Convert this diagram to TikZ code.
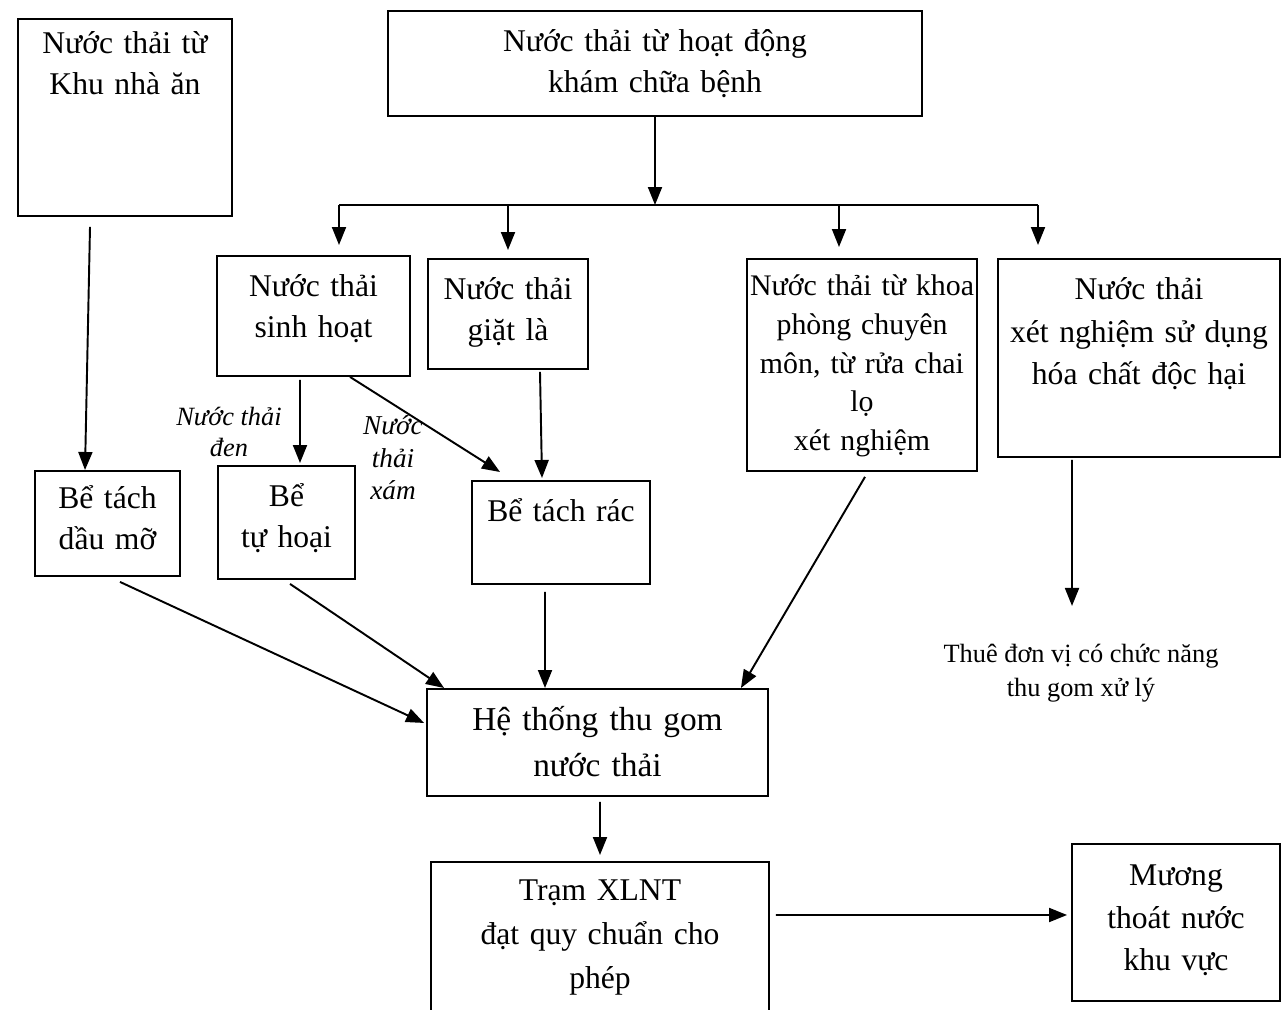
\documentclass[tikz,border=0pt]{standalone}
\usepackage{fontspec}
\setmainfont{Liberation Serif}
\usetikzlibrary{positioning, calc, arrows.meta}

\begin{document}
\begin{tikzpicture}[
    x = 0.02cm, y = -0.02cm,
    rectNode/.append style = {draw, rectangle, line width = 1.1pt, inner sep = 0pt, anchor = north, align = center, font = \fontsize{18}{23}\selectfont},
    openNode/.append style = {rectNode, draw = none},
    myArrow/.append style = {->, >={Triangle[length = 3.6mm, width = 2.8mm]}, line width = 1.1pt},
    noteText/.append style = {inner sep = 0pt, align = center, font = \fontsize{15}{17.5}\selectfont\itshape}
    ]
      \useasboundingbox (0, 0) rectangle (1287, 1010);

      \node[rectNode, text width = 4.28cm, text height = 0.7cm, text depth = 3.24cm] (nhaAn) at (125, 18) {Nước thải từ\\Khu nhà ăn};
      \node[rectNode, text width = 10.68cm, text height = 0.82cm, text depth = 1.28cm] (topBox) at (655, 10) {Nước thải từ hoạt động\\khám chữa bệnh};

      \node[rectNode, text width = 3.86cm, text height = 0.82cm, text depth = 1.58cm] (sinhHoat) at (313.5, 255) {Nước thải\\sinh hoạt};
      \node[rectNode, text width = 3.2cm, text height = 0.82cm, text depth = 1.38cm] (giatLa) at (508, 258) {Nước thải\\giặt là};
      \node[rectNode, text width = 4.6cm, text height = 0.74cm, text depth = 3.5cm, font = \fontsize{17}{22}\selectfont] (khoa) at (862, 258) {Nước thải từ khoa\\phòng chuyên\\môn, từ rửa chai\\lọ\\xét nghiệm};
      \node[rectNode, text width = 5.64cm, text height = 0.82cm, text depth = 3.14cm, font = \fontsize{18}{24}\selectfont] (xetNghiem) at (1139, 258) {Nước thải\\xét nghiệm sử dụng\\hóa chất độc hại};

      \node[rectNode, text width = 2.9cm, text height = 0.76cm, text depth = 1.34cm] (dauMo) at (107.5, 470) {Bể tách\\dầu mỡ};
      \node[rectNode, text width = 2.74cm, text height = 0.82cm, text depth = 1.44cm] (tuHoai) at (286.5, 465) {Bể\\tự hoại};
      \node[rectNode, text width = 3.56cm, text height = 0.82cm, text depth = 1.24cm] (tachRac) at (561, 480) {Bể tách rác};

      \node[noteText] (denLabel) at (229, 432) {Nước thải\\đen};
      \node[noteText, font = \fontsize{15.5}{18.5}\selectfont\itshape] (xamLabel) at (393, 458) {Nước\\thải\\xám};
      \node[noteText, font = \fontsize{15}{19}\selectfont] (thue) at (1081, 673) {Thuê đơn vị có chức năng\\thu gom xử lý};

      \node[rectNode, text width = 6.82cm, text height = 0.84cm, text depth = 1.3cm, font = \fontsize{19}{26}\selectfont] (heThong) at (597.5, 688) {Hệ thống thu gom\\nước thải};
      \node[openNode, text width = 6.72cm, text height = 0.76cm, text depth = 2.8cm, font = \fontsize{18}{25}\selectfont] (tram) at (600, 862) {Trạm XLNT\\đạt quy chuẩn cho\\phép};
      \draw[line width = 1.1pt] (tram.south west) -- (tram.north west) -- (tram.north east) -- (tram.south east);
      \node[rectNode, text width = 4.16cm, text height = 0.84cm, text depth = 2.3cm, font = \fontsize{18}{24}\selectfont] (muong) at (1176, 843) {Mương\\thoát nước\\khu vực};

      %% Arrows

      \coordinate (busL) at (339, 205);
      \coordinate (busR) at (1038, 205);
      \coordinate (dropKhoa) at (839, 205);
      \draw[line width = 1.1pt] (busL) -- (busR);
      \draw[myArrow] (topBox.south) -- (topBox.south |- busL);
      \draw[myArrow, shorten >= 0.2cm] (busL) -- (busL |- sinhHoat.north);
      \draw[myArrow, shorten >= 0.16cm] (giatLa.north |- busL) -- (giatLa.north);
      \draw[myArrow, shorten >= 0.22cm] (dropKhoa) -- (dropKhoa |- khoa.north);
      \draw[myArrow, shorten >= 0.26cm] (busR) -- (busR |- xetNghiem.north);

      \draw[myArrow] ($(nhaAn.south)+(-0.7cm, -0.2cm)$) -- ($(dauMo.north)+(-0.45cm, 0)$);
      \draw[myArrow] ($(sinhHoat.south)+(-0.27cm, -0.06cm)$) -- ($(tuHoai.north)+(0.27cm, 0.04cm)$);
      \draw[myArrow] ($(sinhHoat.south)+(0.73cm, 0)$) -- ($(tachRac.north)+(-1.22cm, 0.16cm)$);
      \draw[myArrow] ($(giatLa.south)+(0.64cm, -0.04cm)$) -- ($(tachRac.north)+(-0.38cm, 0.04cm)$);
      \draw[myArrow] ($(xetNghiem.south)+(-1.34cm, -0.04cm)$) -- ($(thue.north)+(-0.18cm, 0.76cm)$);

      \draw[myArrow] ($(dauMo.south)+(0.25cm, -0.1cm)$) -- ($(heThong.west)+(-0.04cm, 0.39cm)$);
      \draw[myArrow] ($(tuHoai.south)+(0.07cm, -0.08cm)$) -- ($(heThong.north west)+(0.36cm, 0)$);
      \draw[myArrow] ($(tachRac.south)+(-0.32cm, -0.14cm)$) -- ($(heThong.north)+(-1.05cm, 0)$);
      \draw[myArrow] ($(khoa.south)+(0.06cm, -0.1cm)$) -- ($(heThong.north east)+(-0.56cm, 0)$);

      \draw[myArrow] ($(heThong.south)+(0.05cm, -0.1cm)$) -- ($(tram.north)+(0, 0.14cm)$);
      \draw[myArrow] ($(tram.north east)+(0.14cm, -1.06cm)$) -- ($(muong.north west)+(-0.08cm, -1.44cm)$);
    \end{tikzpicture}
\end{document}
